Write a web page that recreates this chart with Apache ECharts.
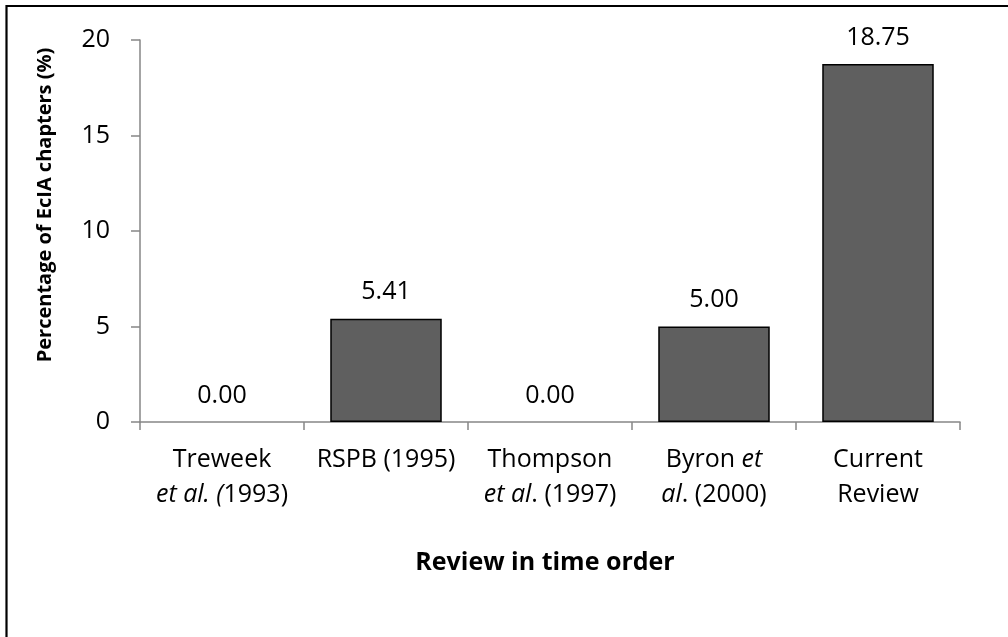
<!DOCTYPE html>
<html>
<head>
<meta charset="utf-8">
<title>Percentage of EcIA chapters by review</title>
<script src="https://cdn.jsdelivr.net/npm/echarts@6/dist/echarts.min.js"></script>
<style>
  html, body { margin: 0; padding: 0; background: #ffffff; }
  #chart { width: 1008px; height: 637px; }
</style>
</head>
<body>
<div id="chart"></div>
<script>
// Reviews in chronological order; rich-text markup {i|...} marks italic parts
const categories = [
  'Treweek\n{i|et al. (}1993)',
  'RSPB (1995)',
  'Thompson\n{i|et al}. (1997)',
  'Byron {i|et}\n{i|al}. (2000)',
  'Current\nReview'
];
// Percentage of EcIA chapters (%)
const values = [0.00, 5.41, 0.00, 5.00, 18.75];
const yTicks = [0, 5, 10, 15, 20];

const FONT = '"Open Sans", "Noto Sans", sans-serif';
const chart = echarts.init(document.getElementById('chart'), null, { renderer: 'canvas' });

// zero-height bars get no outline so nothing is drawn on the axis
const barData = values.map(v => ({
  value: v,
  itemStyle: { borderWidth: v === 0 ? 0 : 1.5 }
}));

chart.setOption({
  backgroundColor: '#ffffff',
  animation: false,
  textStyle: { fontFamily: FONT },
  grid: { left: 140, right: 48, top: 40, bottom: 215 },
  xAxis: {
    type: 'category',
    data: categories,
    boundaryGap: true,
    axisLine: { lineStyle: { color: '#868686', width: 1.5 } },
    axisTick: { show: true, length: 8, lineStyle: { color: '#868686', width: 1.5 } },
    axisLabel: {
      interval: 0,
      margin: 20,
      color: '#000000',
      fontFamily: FONT,
      fontSize: 25,
      lineHeight: 35,
      rich: {
        i: { fontFamily: FONT, fontSize: 25, fontStyle: 'italic', lineHeight: 35, color: '#000000' }
      }
    }
  },
  yAxis: {
    type: 'value',
    min: yTicks[0],
    max: yTicks[yTicks.length - 1],
    interval: yTicks[1] - yTicks[0],
    axisLine: { show: true, lineStyle: { color: '#868686', width: 1.5 } },
    axisTick: { show: true, length: 9, lineStyle: { color: '#868686', width: 1.5 } },
    splitLine: { show: false },
    axisLabel: {
      margin: 30,
      color: '#000000',
      fontFamily: FONT,
      fontSize: 25
    }
  },
  series: [{
    type: 'bar',
    data: barData,
    barWidth: '68%',
    itemStyle: { color: '#5f5f5f', borderColor: '#000000', borderWidth: 1.5 },
    label: {
      show: true,
      position: 'top',
      distance: 14,
      color: '#000000',
      fontFamily: FONT,
      fontSize: 25,
      formatter: p => p.value.toFixed(2)
    }
  }],
  graphic: [
    {
      // vertical axis title
      type: 'text',
      x: 45,
      y: 205,
      rotation: Math.PI / 2,
      style: {
        text: 'Percentage of EcIA chapters (%)',
        fontFamily: FONT,
        fontSize: 20,
        fontWeight: 'bold',
        fill: '#000000',
        textAlign: 'center',
        textVerticalAlign: 'middle'
      }
    },
    {
      // horizontal axis title
      type: 'text',
      x: 545,
      y: 563,
      style: {
        text: 'Review in time order',
        fontFamily: FONT,
        fontSize: 25,
        fontWeight: 'bold',
        fill: '#000000',
        textAlign: 'center',
        textVerticalAlign: 'middle'
      }
    },
    {
      // chart frame
      type: 'rect',
      shape: { x: 6.5, y: 6, width: 1010, height: 640 },
      style: { fill: 'none', stroke: '#000000', lineWidth: 2.2 },
      silent: true
    }
  ]
});
</script>
</body>
</html>
